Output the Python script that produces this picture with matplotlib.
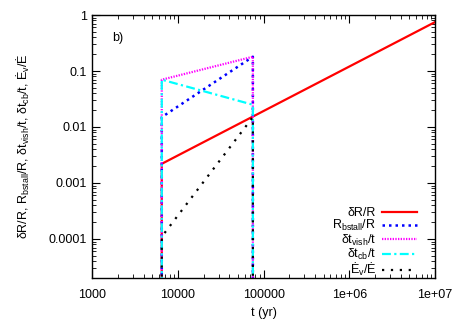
import numpy as np
import matplotlib
matplotlib.use("Agg")
import matplotlib.pyplot as plt
from matplotlib.ticker import LogLocator, NullFormatter, FixedLocator, FixedFormatter

plt.rcParams["font.family"] = ["Liberation Sans", "DejaVu Sans"]
plt.rcParams["mathtext.fontset"] = "custom"
plt.rcParams["mathtext.rm"] = "Liberation Sans"
plt.rcParams["mathtext.it"] = "Liberation Sans"

# time points (yr): onset, end of first phase, end of run
t_on = 6500
t_off = 75000
t_end = 1e7
floor = 1e-7  # values drop to ~0 outside the phase

dR_t = [t_on, t_on, t_end]
dR_v = [floor, 0.0022, 0.75]

bstall_t = [t_on, t_on, t_off, t_off]
bstall_v = [floor, 0.015, 0.18, floor]

vish_t = [t_on, t_on, t_off, t_off]
vish_v = [floor, 0.07, 0.18, floor]

cb_t = [t_on, t_on, t_off, t_off]
cb_v = [floor, 0.07, 0.025, floor]

ev_t = [t_on, t_on, t_off, t_off]
ev_v = [floor, 0.00011, 0.015, floor]

xticks = [1000, 10000, 100000, 1e6, 1e7]
xlabels = ["1000", "10000", "100000", "1e+06", "1e+07"]
yticks = [0.0001, 0.001, 0.01, 0.1, 1]
ylabels = ["0.0001", "0.001", "0.01", "0.1", "1"]

fig = plt.figure(figsize=(4.58, 3.2), dpi=100)
ax = fig.add_axes([0.201, 0.131, 0.749, 0.822])

ax.plot(dR_t, dR_v, color="#ff0000", lw=1.6, label=r"δR/R")
ax.plot(bstall_t, bstall_v, color="#0000ff", lw=1.8, ls=(0, (1, 1.6)),
        label=r"R$_{\mathregular{bstall}}$/R")
ax.plot(vish_t, vish_v, color="#ff00ff", lw=1.6, ls=(0, (0.6, 0.6)),
        label=r"δt$_{\mathregular{vish}}$/t")
ax.plot(cb_t, cb_v, color="#00ffff", lw=1.6, ls=(0, (4, 1.5, 1, 1.5)),
        label=r"δt$_{\mathregular{cb}}$/t")
ax.plot(ev_t, ev_v, color="#000000", lw=1.6, ls=(0, (1, 3)),
        label=r"Ė$_{\mathregular{v}}$/Ė")

ax.set_xscale("log")
ax.set_yscale("log")
ax.set_xlim(1000, 1e7)
ax.set_ylim(2e-5, 1)

ax.xaxis.set_major_locator(FixedLocator(xticks))
ax.xaxis.set_major_formatter(FixedFormatter(xlabels))
ax.yaxis.set_major_locator(FixedLocator(yticks))
ax.yaxis.set_major_formatter(FixedFormatter(ylabels))
ax.xaxis.set_minor_locator(LogLocator(base=10, subs=np.arange(2, 10)))
ax.yaxis.set_minor_locator(LogLocator(base=10, subs=np.arange(2, 10)))
ax.xaxis.set_minor_formatter(NullFormatter())
ax.yaxis.set_minor_formatter(NullFormatter())
ax.tick_params(which="both", direction="in", top=True, right=True, labelsize=9)
ax.tick_params(which="major", length=6, width=0.8)
ax.tick_params(which="minor", length=3, width=0.6)
ax.tick_params(axis="x", pad=8)

for s in ax.spines.values():
    s.set_linewidth(1.0)

ax.set_xlabel("t (yr)", fontsize=9)
ax.set_ylabel(r"δR/R, R$_{\mathregular{bstall}}$/R, δt$_{\mathregular{vish}}$/t, "
              r"δt$_{\mathregular{cb}}$/t, Ė$_{\mathregular{v}}$/Ė", fontsize=9,
              labelpad=12)

ax.text(0.06, 0.9, "b)", transform=ax.transAxes, fontsize=9)

ax.legend(loc="lower right", bbox_to_anchor=(0.97, -0.03), frameon=False,
          markerfirst=False, fontsize=9, handlelength=2.8, labelspacing=-0.06,
          handletextpad=0.5, borderaxespad=0.2)
for txt in ax.get_legend().get_texts():
    txt.set_ha("right")

fig.savefig("out.png", dpi=100)
